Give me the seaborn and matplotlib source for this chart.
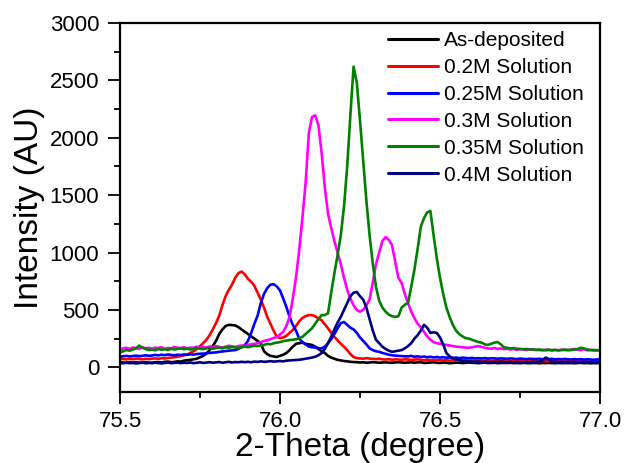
import numpy as np
import pandas as pd
import matplotlib
matplotlib.use("Agg")
import matplotlib.pyplot as plt
from matplotlib.ticker import AutoMinorLocator
from matplotlib.lines import Line2D
import seaborn as sns

# ---- data -------------------------------------------------------------
two_theta = np.round(np.arange(75.50, 77.005, 0.01), 2)  # 151 sample positions

as_deposited = [
    45, 42, 40, 44, 41, 46, 40, 43, 45, 41,
    40, 44, 46, 42, 48, 50, 45, 47, 52, 50,
    58, 62, 65, 70, 75, 88, 100, 120, 150, 185,
    230, 290, 330, 360, 370, 368, 365, 350, 330, 310,
    290, 270, 250, 230, 210, 140, 115, 100, 95, 90,
    100, 110, 125, 150, 180, 205, 210, 215, 205, 200,
    195, 180, 160, 140, 125, 100, 85, 75, 65, 60,
    55, 52, 48, 46, 45, 42, 44, 40, 42, 45,
    43, 40, 42, 44, 41, 40, 43, 45, 42, 40,
    42, 44, 40, 43, 45, 38, 40, 42, 44, 40,
    38, 42, 40, 36, 38, 41, 40, 37, 39, 42,
    40, 38, 36, 39, 41, 37, 38, 40, 36, 38,
    39, 37, 40, 36, 38, 35, 39, 37, 36, 38,
    37, 35, 38, 36, 39, 37, 35, 38, 36, 37,
    36, 38, 35, 37, 39, 36, 38, 35, 37, 36,
    38]

sol_020 = [
    75, 72, 70, 74, 71, 76, 73, 70, 74, 72,
    75, 78, 74, 80, 77, 82, 85, 88, 92, 98,
    105, 112, 125, 140, 160, 185, 210, 240, 280, 330,
    385, 450, 540, 620, 675, 720, 780, 820, 835, 810,
    770, 745, 710, 650, 590, 520, 440, 380, 320, 265,
    255, 260, 275, 300, 325, 360, 400, 430, 445, 455,
    455, 445, 425, 410, 375, 340, 300, 265, 235, 205,
    180, 150, 115, 90, 80, 78, 75, 80, 76, 74,
    72, 75, 70, 68, 72, 66, 70, 68, 65, 70,
    68, 64, 67, 70, 65, 62, 66, 63, 60, 64,
    62, 60, 63, 58, 61, 59, 62, 57, 60, 58,
    60, 57, 59, 56, 58, 60, 55, 57, 59, 56,
    58, 55, 57, 54, 56, 58, 55, 53, 56, 54,
    55, 53, 56, 54, 52, 55, 53, 56, 52, 54,
    53, 55, 52, 54, 56, 53, 51, 54, 52, 55,
    53]

sol_025 = [
    92, 96, 100, 95, 98, 102, 97, 100, 105, 100,
    103, 108, 104, 110, 106, 112, 108, 105, 110, 107,
    112, 109, 114, 110, 116, 118, 120, 122, 125, 128,
    130, 135, 138, 142, 145, 148, 150, 160, 175, 195,
    230, 300, 380, 450, 560, 640, 690, 720, 725, 705,
    670, 600, 525, 440, 370, 320, 250, 220, 200, 180,
    175, 172, 168, 165, 180, 210, 245, 290, 340, 385,
    395, 370, 345, 330, 300, 260, 230, 200, 165, 150,
    140, 135, 125, 118, 110, 105, 102, 100, 98, 96,
    95, 100, 92, 96, 90, 94, 88, 92, 86, 90,
    85, 88, 84, 86, 82, 85, 80, 84, 82, 79,
    82, 78, 80, 77, 81, 76, 79, 78, 75, 78,
    76, 74, 78, 75, 72, 76, 74, 71, 75, 73,
    72, 75, 70, 73, 71, 74, 69, 72, 70, 73,
    70, 68, 72, 69, 71, 67, 70, 68, 66, 69,
    68]

sol_030 = [
    155, 165, 170, 160, 172, 168, 160, 175, 165, 170,
    162, 172, 168, 175, 160, 170, 165, 178, 170, 168,
    175, 165, 172, 170, 180, 168, 176, 172, 182, 175,
    185, 178, 172, 180, 188, 182, 178, 185, 190, 186,
    195, 200, 205, 210, 220, 228, 235, 245, 255, 265,
    285, 310, 360, 440, 600, 780, 1020, 1300, 1605, 2040,
    2180, 2195, 2110, 1870, 1570, 1340, 1215, 1100, 1000, 900,
    780, 675, 600, 540, 500, 485, 500, 540, 590, 740,
    900, 1000, 1100, 1135, 1110, 1065, 920, 780, 735, 640,
    560, 485, 430, 380, 350, 310, 270, 240, 220, 210,
    205, 200, 195, 190, 185, 180, 178, 175, 172, 170,
    175, 180, 185, 178, 170, 165, 162, 168, 160, 165,
    158, 162, 155, 160, 152, 158, 155, 150, 156, 152,
    155, 150, 148, 154, 150, 146, 152, 148, 155, 150,
    148, 155, 160, 152, 150, 158, 148, 152, 146, 150,
    148]

sol_035 = [
    130, 140, 150, 145, 155, 165, 190, 170, 160, 150,
    155, 148, 160, 152, 158, 150, 162, 155, 160, 165,
    158, 162, 155, 160, 168, 162, 158, 165, 170, 162,
    168, 172, 165, 175, 170, 178, 172, 168, 175, 180,
    175, 182, 188, 185, 190, 195, 205, 200, 210, 215,
    220, 228, 232, 238, 240, 245, 255, 265, 290, 315,
    340, 380, 420, 455, 455, 470, 650, 820, 980, 1150,
    1400, 1750, 2200, 2620, 2480, 2150, 1800, 1450, 1150, 900,
    700, 580, 520, 485, 460, 445, 440, 445, 520, 545,
    560, 700, 850, 1030, 1225, 1300, 1350, 1363, 1150, 950,
    780, 640, 520, 440, 370, 320, 290, 270, 255, 250,
    240, 230, 220, 215, 200, 195, 205, 215, 220, 200,
    175, 170, 165, 168, 162, 160, 158, 160, 155, 158,
    150, 155, 152, 148, 155, 150, 152, 148, 150, 155,
    152, 150, 155, 160, 170, 165, 155, 150, 152, 148,
    150]

sol_040 = [
    38, 35, 40, 36, 38, 34, 37, 40, 35, 38,
    36, 40, 37, 34, 38, 42, 36, 39, 41, 37,
    40, 38, 42, 36, 40, 44, 38, 41, 45, 40,
    43, 46, 40, 44, 48, 42, 46, 44, 48, 45,
    48, 44, 50, 47, 52, 48, 50, 54, 50, 52,
    55, 52, 58, 60, 62, 64, 66, 70, 75, 80,
    85, 92, 105, 125, 160, 210, 265, 330, 390, 440,
    500, 560, 620, 650, 657, 620, 590, 520, 420, 320,
    240, 210, 180, 160, 145, 135, 140, 145, 150, 165,
    185, 210, 250, 280, 320, 370, 345, 300, 305, 300,
    260, 200, 125, 95, 80, 68, 64, 58, 55, 52,
    50, 48, 52, 46, 50, 47, 44, 48, 45, 50,
    46, 44, 48, 42, 46, 44, 41, 45, 43, 47,
    44, 50, 60, 85, 70, 50, 45, 42, 46, 43,
    45, 42, 44, 40, 43, 46, 41, 44, 40, 42,
    43]

labels = ["As-deposited", "0.2M Solution", "0.25M Solution",
          "0.3M Solution", "0.35M Solution", "0.4M Solution"]
series = [as_deposited, sol_020, sol_025, sol_030, sol_035, sol_040]
colors = ["#000000", "#FF0000", "#0000FF", "#FF00FF", "#008000", "#000080"]

x_ticks = [75.5, 76.0, 76.5, 77.0]
y_ticks = [0, 500, 1000, 1500, 2000, 2500, 3000]

frames = [pd.DataFrame({"two_theta": two_theta, "intensity": s, "sample": lab})
          for s, lab in zip(series, labels)]
df = pd.concat(frames, ignore_index=True)

# ---- plot -------------------------------------------------------------
sns.set_theme(style="ticks")
plt.rcParams["font.family"] = ["Liberation Sans", "DejaVu Sans"]
plt.rcParams["text.color"] = "black"
plt.rcParams["axes.labelcolor"] = "black"
plt.rcParams["xtick.color"] = "black"
plt.rcParams["ytick.color"] = "black"

fig = plt.figure(figsize=(6.27, 4.63), dpi=100)
ax = fig.add_axes([120 / 627, 1 - 392 / 463, 480 / 627, 369 / 463])

sns.lineplot(data=df, x="two_theta", y="intensity", hue="sample",
             hue_order=labels, palette=colors, estimator=None,
             linewidth=1.9, ax=ax, legend=False)

ax.set_xlim(75.5, 77.0)
ax.set_ylim(-215, 3000)
ax.set_xticks(x_ticks)
ax.set_xticklabels([f"{v:.1f}" for v in x_ticks])
ax.set_yticks(y_ticks)
ax.xaxis.set_minor_locator(AutoMinorLocator(2))
ax.yaxis.set_minor_locator(AutoMinorLocator(2))

ax.tick_params(which="major", direction="out", length=8.5, width=1.3,
               labelsize=16, colors="black")
ax.tick_params(axis="y", which="major", pad=6.5)
ax.tick_params(axis="x", which="major", pad=5)
ax.tick_params(which="minor", direction="out", length=4.5, width=1.3,
               colors="black")
ax.tick_params(top=False, right=False, which="both")

for sp in ax.spines.values():
    sp.set_visible(True)
    sp.set_linewidth(1.6)
    sp.set_color("black")

ax.set_xlabel("2-Theta (degree)", fontsize=24, labelpad=0, color="black")
ax.set_ylabel("Intensity (AU)", fontsize=24, labelpad=3, color="black")

handles = [Line2D([0], [0], color=c, lw=2.2) for c in colors]
leg = ax.legend(handles, labels, loc="upper left",
                bbox_to_anchor=(388 / 627, 1 - 31 / 463),
                bbox_transform=fig.transFigure, frameon=False, fontsize=15,
                handlelength=2.4, handletextpad=0.3, labelspacing=0.38,
                borderpad=0, borderaxespad=0)
for t in leg.get_texts():
    t.set_color("black")

fig.savefig("out.png", dpi=100)
